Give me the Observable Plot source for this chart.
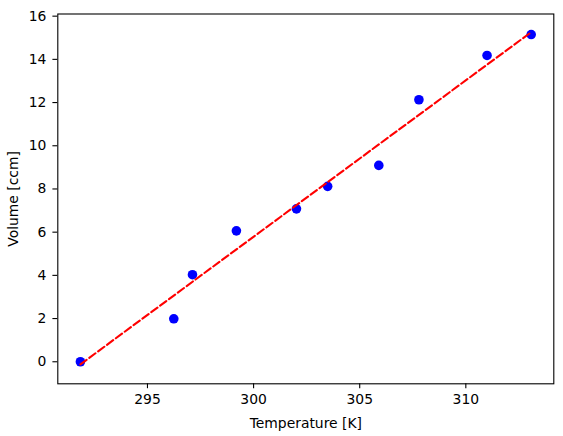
<!DOCTYPE html>
<html>
<head>
<meta charset="utf-8">
<script src="https://cdn.jsdelivr.net/npm/d3@7"></script>
<script src="https://cdn.jsdelivr.net/npm/@observablehq/plot@0.6"></script>
<style>
  body { margin: 0; background: #fff; }
  svg { display: block; }
</style>
</head>
<body>
<div id="chart"></div>
<script>
// measured points
const temperature = [291.84, 296.24, 297.12, 299.19, 302.02, 303.49, 305.9, 307.79, 311.0, 313.08];
const volume = [0.0, 1.99, 4.03, 6.06, 7.08, 8.12, 9.09, 12.13, 14.18, 15.15];

const fitTemperature = [291.84, 313.08];
const fitVolume = [-0.12, 15.26];

const xTicks = [295, 300, 305, 310];
const yTicks = [0, 2, 4, 6, 8, 10, 12, 14, 16];

const points = temperature.map((t, i) => ({ t, v: volume[i] }));
const fit = fitTemperature.map((t, i) => ({ t, v: fitVolume[i] }));

const chart = Plot.plot({
  width: 563,
  height: 436,
  marginLeft: 57.3,
  marginTop: 13.5,
  marginRight: 9.7,
  marginBottom: 52.7,
  style: {
    fontFamily: "DejaVu Sans",
    fontSize: "13.9px",
    color: "black",
    background: "white",
  },
  x: { domain: [290.775, 314.145] },
  y: { domain: [-1.02, 16.1] },
  marks: [
    Plot.axisX(xTicks, {
      tickSize: 4.9,
      tickPadding: 5.5,
      strokeWidth: 1.1,
      fontSize: 13.9,
      label: "Temperature [K]",
      labelAnchor: "center",
      labelArrow: "none",
      labelOffset: 44,
    }),
    Plot.axisY(yTicks, {
      tickSize: 4.9,
      tickPadding: 6.5,
      strokeWidth: 1.1,
      fontSize: 13.9,
      label: "Volume [ccm]",
      labelAnchor: "center",
      labelArrow: "none",
      labelOffset: 49.3,
    }),
    Plot.dot(points, { x: "t", y: "v", r: 4.8, fill: "#0000ff", stroke: "none" }),
    Plot.line(fit, {
      x: "t",
      y: "v",
      stroke: "#ff0000",
      strokeWidth: 2.1,
      strokeDasharray: "7.7,3.3",
    }),
    Plot.frame({ stroke: "black", strokeWidth: 1.1 }),
  ],
});

document.getElementById("chart").appendChild(chart);
</script>
</body>
</html>
